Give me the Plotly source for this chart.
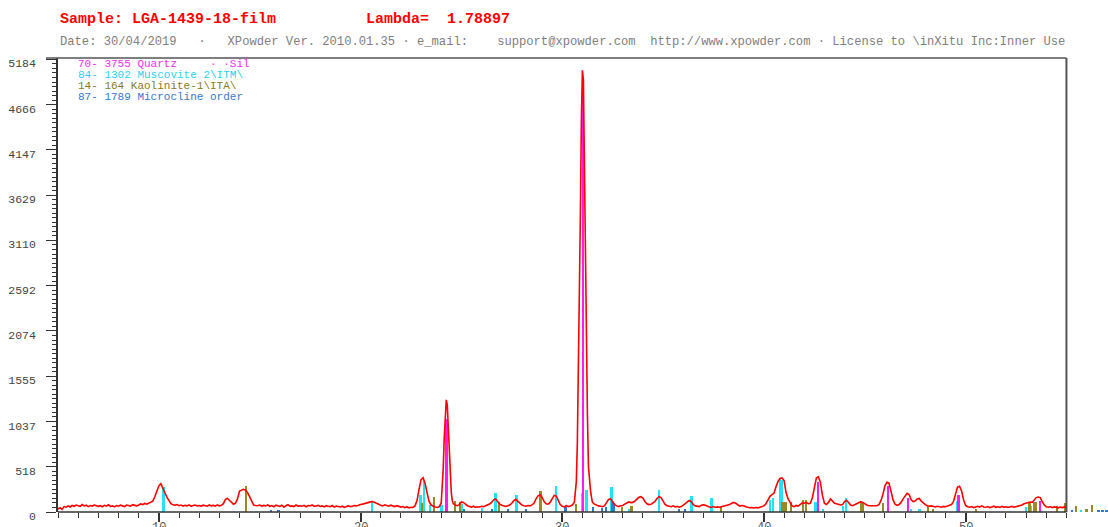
import plotly.graph_objects as go

# ---------------- data ----------------
# measured pattern, 2theta from 5.0 to 55.0 deg in 0.1 deg steps
counts = [
    35, 48, 30, 62, 55, 70, 58, 75, 66, 80,          # 5
    72, 64, 85, 70, 78, 62, 74, 68, 80, 71,          # 6
    65, 72, 60, 76, 68, 82, 64, 70, 58, 74,          # 7
    66, 78, 70, 62, 80, 72, 68, 84, 74, 70,          # 8
    80, 92, 85, 98, 90, 104, 112, 125, 175, 240,     # 9
    300, 325, 280, 220, 170, 130, 95, 82, 78, 85,    # 10
    72, 80, 68, 76, 70, 82, 66, 74, 80, 70,          # 11
    74, 68, 78, 72, 66, 80, 70, 76, 68, 82,          # 12
    70, 76, 95, 145, 155, 135, 110, 88, 100, 150,    # 13
    240, 255, 260, 250, 220, 175, 120, 80, 75, 72,   # 14
    80, 68, 75, 70, 82, 66, 74, 60, 78, 70,          # 15
    64, 78, 56, 72, 84, 66, 70, 62, 80, 68,          # 16
    72, 66, 76, 60, 74, 70, 82, 64, 70, 76,          # 17
    64, 70, 58, 72, 66, 60, 74, 56, 68, 62,          # 18
    58, 66, 52, 62, 70, 60, 68, 74, 70, 82,          # 19
    85, 90, 98, 102, 110, 116, 120, 112, 100, 88,    # 20
    78, 70, 82, 74, 66, 78, 70, 62, 72, 64,          # 21
    56, 62, 50, 58, 48, 55, 52, 70, 130, 260,        # 22
    370, 392, 330, 220, 120, 80, 66, 58, 52, 60,     # 23
    100, 500, 1150, 1230, 680, 220, 95, 80, 72, 85,  # 24
    115, 110, 90, 72, 64, 56, 66, 52, 60, 58,        # 25
    66, 60, 72, 80, 92, 110, 140, 150, 120, 90,      # 26
    78, 70, 64, 72, 80, 100, 130, 145, 120, 95,      # 27
    80, 72, 66, 74, 70, 82, 100, 150, 185, 195,      # 28
    170, 120, 95, 90, 110, 150, 190, 185, 130, 85,   # 29
    66, 58, 72, 62, 70, 80, 110, 350, 1500, 3400,    # 30
    5060, 3800, 1900, 520, 250, 110, 90, 78, 70, 66, # 31
    60, 72, 110, 145, 150, 115, 85, 70, 62, 72,      # 32
    75, 90, 105, 115, 108, 110, 125, 150, 168, 175,  # 33
    160, 120, 95, 85, 88, 105, 120, 155, 175, 165,   # 34
    120, 88, 72, 66, 60, 70, 58, 64, 55, 62,         # 35
    75, 95, 115, 132, 120, 85, 70, 66, 62, 78,       # 36
    82, 76, 64, 58, 55, 62, 52, 58, 54, 60,          # 37
    58, 66, 72, 85, 100, 110, 100, 80, 68, 75,       # 38
    72, 60, 52, 48, 50, 46, 52, 48, 55, 60,          # 39
    70, 95, 135, 180, 200, 215, 290, 350, 385, 390,  # 40
    360, 220, 150, 105, 70, 62, 75, 68, 90, 105,     # 41
    100, 110, 95, 100, 160, 300, 390, 405, 340, 190, # 42
    100, 85, 110, 150, 130, 100, 95, 90, 80, 85,     # 43
    120, 135, 110, 80, 72, 85, 95, 110, 118, 110,    # 44
    90, 80, 72, 70, 75, 68, 72, 85, 130, 200,        # 45
    300, 340, 330, 240, 140, 90, 75, 85, 110, 150,   # 46
    190, 215, 200, 140, 120, 125, 150, 155, 125, 100,# 47
    85, 72, 66, 70, 62, 58, 66, 60, 55, 64,          # 48
    60, 68, 75, 85, 120, 210, 285, 295, 240, 140,    # 49
    75, 60, 55, 62, 50, 58, 66, 55, 70, 58,          # 50
    55, 62, 50, 58, 66, 54, 60, 52, 64, 56,          # 51
    60, 52, 58, 64, 55, 60, 66, 72, 80, 95,          # 52
    100, 105, 115, 110, 140, 165, 172, 165, 120, 80, # 53
    60, 55, 62, 50, 58, 52, 48, 56, 50, 58,          # 54
    54,                                              # 55
]
scan_start = 5.0
scan_step = 0.1

# extra points read on the two sharp quartz peaks
peak_two_theta = [24.05, 24.15, 24.25, 24.35, 24.45, 24.55,
                  30.75, 30.85, 30.95, 31.05, 31.15, 31.25, 31.35, 31.45]
peak_counts = [250, 850, 1285, 1000, 400, 130,
               800, 2400, 4500, 4950, 2800, 1100, 360, 170]

# reference sticks (phase identification)
quartz_2theta = [24.27, 31.03, 42.68, 46.15, 47.14, 49.66, 53.70]
quartz_int = [1060, 4800, 347, 295, 157, 196, 130]

muscovite_2theta = [10.25, 20.59, 22.98, 23.16, 23.47, 24.03, 25.04, 26.03, 26.70,
                    27.74, 29.72, 31.01, 31.21, 32.45, 33.31, 34.81, 36.42, 37.42,
                    40.32, 40.45, 40.81, 40.89, 42.57, 42.93, 43.92, 44.09, 47.31,
                    47.72, 49.59, 53.00, 53.27, 55.75]
muscovite_int = [290, 118, 196, 370, 84, 85, 97, 45, 213,
                 194, 293, 213, 250, 282, 35, 250, 180, 157,
                 133, 157, 389, 370, 118, 30, 70, 163, 30,
                 30, 125, 60, 70, 25]

kaolinite_2theta = [14.34, 23.06, 23.64, 24.71, 24.96, 26.88, 28.93, 30.71, 32.98,
                    33.44, 37.89, 40.94, 41.08, 41.36, 41.94, 42.10, 44.83, 44.91,
                    45.90, 48.14, 48.38, 50.53, 53.18, 53.43, 53.51, 54.56, 54.94,
                    55.50, 56.00, 56.28]
kaolinite_int = [297, 100, 177, 130, 115, 115, 236, 97, 60,
                 70, 70, 110, 110, 110, 133, 133, 118, 118,
                 100, 70, 40, 30, 118, 118, 118, 70, 100,
                 69, 30, 80]

microcline_2theta = [15.58, 15.95, 25.14, 26.53, 27.32, 28.23, 30.18, 31.54, 32.00,
                     32.17, 32.50, 32.56, 35.80, 36.09, 55.30, 56.60, 56.80, 57.00]
microcline_int = [15, 15, 40, 30, 40, 30, 60, 60, 45,
                  60, 118, 100, 30, 30, 15, 15, 20, 15]

y_tick_values = [0, 518.4, 1036.8, 1555.2, 2073.6, 2592, 3110.4, 3628.8, 4147.2, 4665.6, 5184]
y_tick_labels = ["0", "518", "1037", "1555", "2074", "2592", "3110", "3629", "4147", "4666", "5184"]
x_tick_values = [10, 20, 30, 40, 50]
x_tick_labels = ["10", "20", "30", "40", "50"]
x_minor_values = list(range(5, 56))

legend_lines = ["70- 3755 Quartz     · ·Sil",
                "84- 1302 Muscovite 2\\ITM\\",
                "14- 164 Kaolinite-1\\ITA\\",
                "87- 1789 Microcline order"]
title_line = "Sample: LGA-1439-18-film          Lambda=  1.78897"
info_line = ("Date: 30/04/2019   ·   XPowder Ver. 2010.01.35 · e_mail:    "
             "support@xpowder.com  http://www.xpowder.com · License to \\inXitu Inc:Inner Use")

# ---------------- build ----------------
grid_x = [round(scan_start + scan_step * i, 2) for i in range(len(counts))]
pairs = sorted(list(zip(grid_x, counts)) + list(zip(peak_two_theta, peak_counts)))
pattern_x = [p[0] for p in pairs]
pattern_y = [p[1] for p in pairs]

X_MIN, X_MAX, X_END = 5.0, 57.06, 55.0
W, H = 1108, 527
ML, MR, MT, MB = 58, 0, 58, 15
PW, PH = W - ML - MR, H - MT - MB
MONO = "Liberation Mono, Courier New, monospace"


def nb(s):
    return s.replace(" ", "\u00a0")


def px_x(px):
    return (px - ML) / PW


def px_y(py):
    return (H - MB - py) / PH


fig = go.Figure()
fig.add_trace(go.Scatter(x=pattern_x, y=pattern_y, mode="lines",
                         line=dict(color="#ff0000", width=1.6), hoverinfo="skip"))

stick_sets = [
    (muscovite_2theta, muscovite_int, "#22e3f5"),
    (kaolinite_2theta, kaolinite_int, "#9a8a26"),
    (microcline_2theta, microcline_int, "#2f78d6"),
    (quartz_2theta, quartz_int, "#ff1cf0"),
]
for xs, ys, col in stick_sets:
    fig.add_trace(go.Bar(x=xs, y=ys, width=0.09, marker=dict(color=col, line=dict(width=0)),
                         hoverinfo="skip"))

end_frac = (X_END - X_MIN) / (X_MAX - X_MIN)
shapes = [
    dict(type="line", xref="paper", yref="paper", x0=px_x(46), x1=end_frac, y0=1, y1=1,
         line=dict(color="#555555", width=1.6)),
    dict(type="line", xref="paper", yref="paper", x0=end_frac, x1=end_frac, y0=0, y1=1,
         line=dict(color="#555555", width=2)),
    dict(type="line", xref="paper", yref="paper", x0=0, x1=end_frac, y0=0, y1=0,
         line=dict(color="#333333", width=1.5)),
]

colors_legend = ["#f030f0", "#2ed0ee", "#8a7a28", "#3a78cc"]
annotations = [
    dict(text=nb(title_line), xref="paper", yref="paper", x=px_x(58), y=px_y(19),
         xanchor="left", yanchor="middle", showarrow=False,
         font=dict(family=MONO, size=15, color="#ff0000", weight="bold")),
    dict(text=nb(info_line), xref="paper", yref="paper", x=px_x(58), y=px_y(42),
         xanchor="left", yanchor="middle", showarrow=False,
         font=dict(family=MONO, size=12.15, color="#808080")),
]
for i, (txt, col) in enumerate(zip(legend_lines, colors_legend)):
    annotations.append(dict(text=nb(txt), xref="paper", yref="paper", x=px_x(76),
                            y=px_y(64 + 11.1 * i), xanchor="left", yanchor="middle",
                            showarrow=False, font=dict(family=MONO, size=11, color=col)))
# x tick labels (placed like the reference: just under the ticks, cut by the page edge)
for xv, xt in zip(x_tick_values, x_tick_labels):
    annotations.append(dict(text=xt, xref="x", yref="paper", x=xv, y=px_y(519),
                            xanchor="center", yanchor="top", showarrow=False,
                            font=dict(family=MONO, size=12, color="#555555")))

fig.update_layout(
    width=W, height=H,
    margin=dict(l=ML, r=MR, t=MT, b=MB, pad=0, autoexpand=False),
    paper_bgcolor="white", plot_bgcolor="white",
    showlegend=False, barmode="overlay", bargap=0,
    shapes=shapes, annotations=annotations,
    xaxis=dict(range=[X_MIN, X_MAX], automargin=False, showgrid=False, zeroline=False,
               showline=False, showticklabels=False,
               tickmode="array", tickvals=x_tick_values,
               ticks="outside", ticklen=9, tickwidth=1.5, tickcolor="#333333",
               minor=dict(tickmode="array", tickvals=x_minor_values, ticks="outside",
                          ticklen=5, tickwidth=1.2, tickcolor="#333333")),
    yaxis=dict(range=[0, 5200], automargin=False, showgrid=False, zeroline=False,
               showline=True, linecolor="#333333", linewidth=1.6,
               tickmode="array", tickvals=y_tick_values, ticktext=y_tick_labels,
               ticks="outside", ticklen=10, tickwidth=1.3, tickcolor="#333333",
               ticklabelstandoff=8, ticklabelshift=4,
               tickfont=dict(family=MONO, size=11.5, color="#444444"),
               minor=dict(tick0=0, dtick=51.84, ticks="outside", ticklen=4,
                          tickwidth=1, tickcolor="#333333")),
)

fig.write_html(
    "out.html",
    config={"displayModeBar": False},
    post_script="document.body.style.margin='0px';document.body.style.padding='0px';"
                "document.body.style.overflow='hidden';",
)
